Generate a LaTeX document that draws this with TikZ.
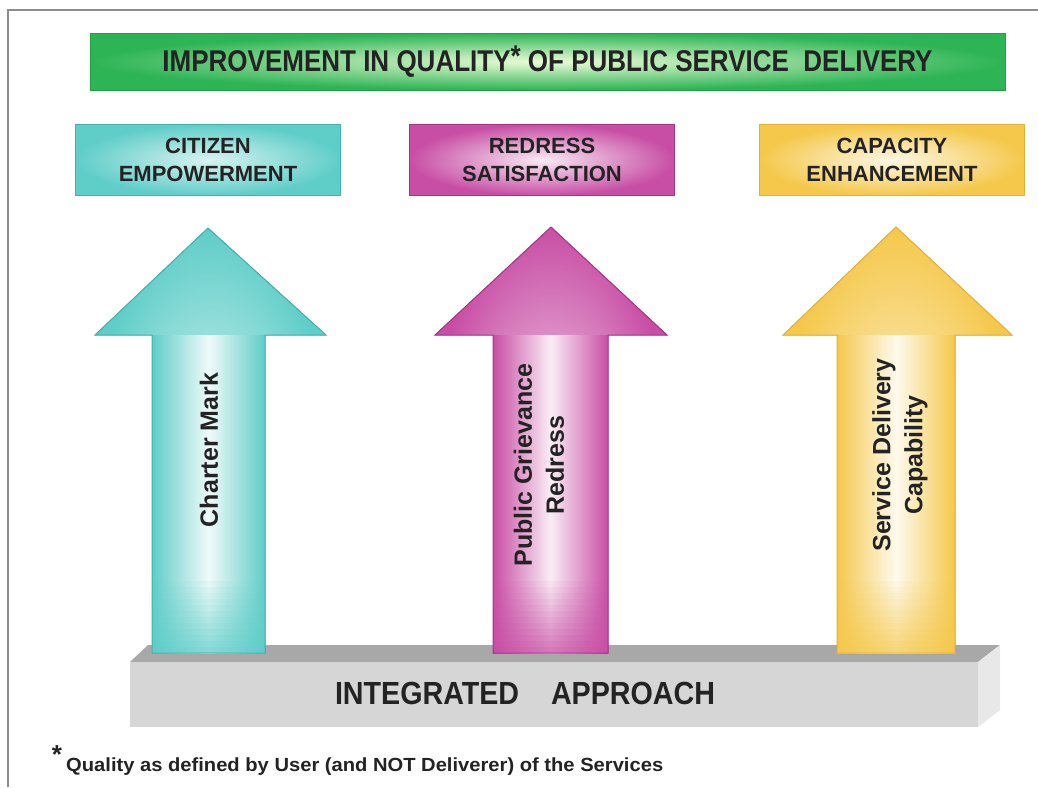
\documentclass[tikz,border=0pt]{standalone}
\usepackage{fontspec}
\setmainfont{Liberation Sans}
\usepackage{graphicx}
\definecolor{txt}{RGB}{35,35,35}
\definecolor{frameC}{RGB}{140,140,140}
\definecolor{greenC}{RGB}{45,180,85}
\definecolor{greenD}{RGB}{35,160,70}
\definecolor{greenL}{RGB}{235,252,215}
\definecolor{tealC}{RGB}{95,205,200}
\definecolor{tealD}{RGB}{65,178,172}
\definecolor{magC}{RGB}{200,78,165}
\definecolor{magD}{RGB}{170,50,140}
\definecolor{yelC}{RGB}{245,200,75}
\definecolor{yelD}{RGB}{228,178,48}
\definecolor{slabTop}{RGB}{168,168,168}
\definecolor{slabFront}{RGB}{214,214,214}
\definecolor{slabSide}{RGB}{232,232,232}
\tikzset{
  topbox/.style={minimum width=265pt, minimum height=71pt, align=center, text=txt,
    font=\bfseries\fontsize{22}{28}\selectfont, line width=1pt},
  arrowlabel/.style={rotate=90, align=center, text=txt,
    font=\bfseries\fontsize{25}{32}\selectfont},
}
% #1 colour, #2 dark, #3 tipx, #4 tipy, #5 headL, #6 headR, #7 shaftL, #8 shaftR, #9 headbase; bottom = \arrbottom
\newcommand{\upArrow}[9]{%
  \fill[inner color=#1!30!white, outer color=#1]
    (#3,#4) -- (#6,#9) -- (#8,#9) -- (#8,\arrbottom) -- (#7,\arrbottom) -- (#7,#9) -- (#5,#9) -- cycle;
  \fill[left color=#1, right color=#1, middle color=#1!10!white] (#7,#9) rectangle (#8,\arrbottom);
  \foreach \k in {1,...,12}{
    \fill[#1, opacity=0.06*\k] (#7,\arrbottom-78+6*\k) rectangle (#8,\arrbottom-72+6*\k);
  }
  \draw[#2, line width=1pt, line join=miter]
    (#3,#4) -- (#6,#9) -- (#8,#9) -- (#8,\arrbottom) -- (#7,\arrbottom) -- (#7,#9) -- (#5,#9) -- cycle;
}
\begin{document}
\begin{tikzpicture}[x=1pt,y=-1pt]
\useasboundingbox (0,0) rectangle (1038,787);
\fill[white] (0,0) rectangle (1038,787);
% frame
\draw[frameC, line width=1.5pt] (8,787) -- (8,10) -- (1038,10);
% banner
\node[draw=greenD, line width=1pt, minimum width=915pt, minimum height=57pt,
  inner color=greenL, outer color=greenC, inner sep=0pt] (banner) at (547.5,61.5)
  {\resizebox{770pt}{\height}{\color{txt}\bfseries\fontsize{30}{32}\selectfont IMPROVEMENT IN QUALITY\raisebox{5pt}{*} OF PUBLIC SERVICE\ \ DELIVERY}};
% top boxes
\node[topbox, draw=tealD, inner color=tealC!25!white, outer color=tealC] (citizen) at (208,160) {CITIZEN\\EMPOWERMENT};
\node[topbox, draw=magD, inner color=magC!12!white, outer color=magC] (redress) at (542,160) {REDRESS\\SATISFACTION};
\node[topbox, draw=yelD, inner color=yelC!15!white, outer color=yelC] (capacity) at (892,160) {CAPACITY\\ENHANCEMENT};
% slab
\fill[slabTop] (130,662) -- (148,645) -- (1000,645) -- (978,662) -- cycle;
\fill[slabFront] (130,662) rectangle (978,727);
\fill[slabSide] (978,662) -- (1000,645) -- (1000,710) -- (978,727) -- cycle;
\node[text=txt, inner sep=0pt] (integrated) at (525,693)
  {\resizebox{380pt}{\height}{\bfseries\fontsize{32}{34}\selectfont INTEGRATED\ \ \ \ APPROACH}};
% arrows
\def\arrbottom{653}
\upArrow{tealC}{tealD}{208}{228}{95}{326}{152}{265}{335}
\upArrow{magC}{magD}{551}{227}{435}{667}{493}{608}{335}
\upArrow{yelC}{yelD}{896}{227}{783}{1012}{837}{955}{335}
\node[arrowlabel] (charter) at (209,450) {Charter Mark};
\node[arrowlabel] (grievance) at (539,465) {Public Grievance\\Redress};
\node[arrowlabel] (service) at (900,455) {Service Delivery\\Capability};
% footnote
\node[text=txt, inner sep=0pt, font=\bfseries\fontsize{26}{28}\selectfont] (star) at (57,755) {*};
\node[text=txt, inner sep=0pt, anchor=base west] (footnote) at (66,771)
  {\resizebox{597pt}{\height}{\bfseries\fontsize{19}{20}\selectfont Quality as defined by User (and NOT Deliverer) of the Services}};
\end{tikzpicture}
\end{document}
